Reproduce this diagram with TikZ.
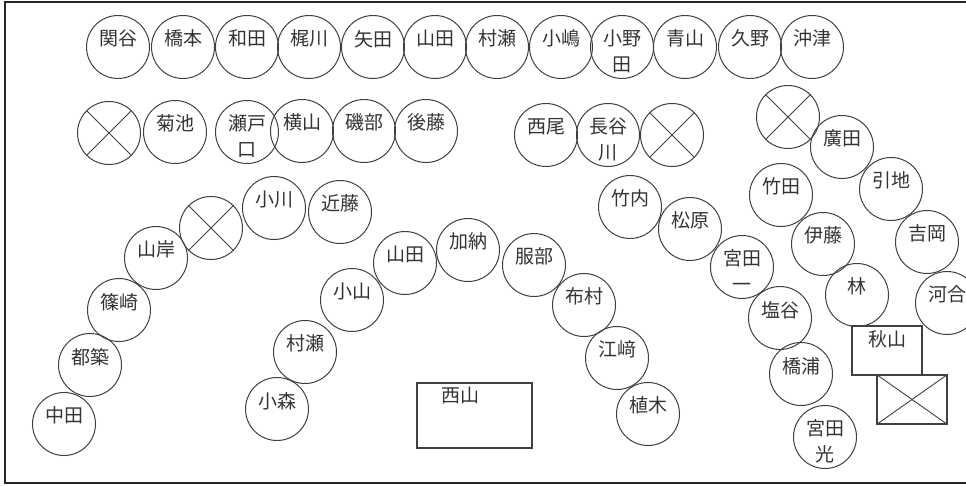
\documentclass[tikz,border=0pt]{standalone}
\usepackage{fontspec}
\newfontfamily\jpfont{Noto Sans CJK JP}
\definecolor{ln}{HTML}{404040}
\definecolor{tx}{HTML}{333333}
\newcommand\seattxt[1]{\parbox[c][34pt][t]{44pt}{\centering #1}}
\tikzset{
  seat/.style={circle, draw=ln, line width=1pt, minimum size=63pt, inner sep=0pt,
    text=tx, font=\jpfont\fontsize{19}{26}\selectfont},
  boxtxt/.style={anchor=north, inner sep=0pt, text=tx, font=\jpfont\fontsize{19}{26}\selectfont},
  crossln/.style={draw=ln, line width=0.9pt},
  desk/.style={draw=ln, line width=1.1pt, inner sep=0pt}
}
\begin{document}
\begin{tikzpicture}[x=1pt, y=-1pt]
\useasboundingbox (0,0) rectangle (966,485);
% frame (open on the right)
\draw[black!85, line width=1.4pt] (966,2) -- (5,2) -- (5,483) -- (966,483);

% row 1
\node[seat] (seki)     at (118,47) {\seattxt{関谷}};
\node[seat] (hashimoto) at (183,47) {\seattxt{橋本}};
\node[seat] (wada)     at (247,47) {\seattxt{和田}};
\node[seat] (kajikawa) at (309,47) {\seattxt{梶川}};
\node[seat] (yada)     at (373,47) {\seattxt{矢田}};
\node[seat] (yamadaA)  at (435,47) {\seattxt{山田}};
\node[seat] (muraseA)  at (497,47) {\seattxt{村瀬}};
\node[seat] (kojima)   at (561,47) {\seattxt{小嶋}};
\node[seat] (onoda)    at (622,47) {\seattxt{小野\\田}};
\node[seat] (aoyama)   at (685,47) {\seattxt{青山}};
\node[seat] (kuno)     at (750,47) {\seattxt{久野}};
\node[seat] (okitsu)   at (812,47) {\seattxt{沖津}};

% row 2
\node[seat] (xA)       at (109,133) {};
\node[seat] (kikuchi)  at (175,132) {\seattxt{菊池}};
\node[seat] (seto)     at (247,132) {\seattxt{瀬戸\\口}};
\node[seat] (yokoyama) at (302,131) {\seattxt{横山}};
\node[seat] (isobe)    at (364,131) {\seattxt{磯部}};
\node[seat] (goto)     at (426,131) {\seattxt{後藤}};
\node[seat] (nishio)   at (546,135) {\seattxt{西尾}};
\node[seat] (hasegawa) at (608,135) {\seattxt{長谷\\川}};
\node[seat] (xB)       at (672,135) {};
\node[seat] (xC)       at (788,117) {};
\node[seat] (hirota)   at (842,147) {\seattxt{廣田}};

% left arc
\node[seat] (ogawa)     at (274,208) {\seattxt{小川}};
\node[seat] (kondo)     at (340,212) {\seattxt{近藤}};
\node[seat] (xD)        at (211,228) {};
\node[seat] (yamagishi) at (156,258) {\seattxt{山岸}};
\node[seat] (shinozaki) at (119,310) {\seattxt{篠崎}};
\node[seat] (tsuzuki)   at (90,365)  {\seattxt{都築}};
\node[seat] (nakata)    at (64,424)  {\seattxt{中田}};

% middle arc
\node[seat] (komori)   at (277,409) {\seattxt{小森}};
\node[seat] (muraseB)  at (305,352) {\seattxt{村瀬}};
\node[seat] (koyama)   at (352,300) {\seattxt{小山}};
\node[seat] (yamadaB)  at (405,263) {\seattxt{山田}};
\node[seat] (kano)     at (468,250) {\seattxt{加納}};
\node[seat] (hattori)  at (534,265) {\seattxt{服部}};
\node[seat] (nunomura) at (584,305) {\seattxt{布村}};
\node[seat] (ezaki)    at (617,358) {\seattxt{江﨑}};
\node[seat] (ueki)     at (648,414) {\seattxt{植木}};

% right group
\node[seat] (takeuchi)  at (630,207) {\seattxt{竹内}};
\node[seat] (matsubara) at (690,229) {\seattxt{松原}};
\node[seat] (miyatak)   at (742,267) {\seattxt{宮田\\一}};
\node[seat] (shiotani)  at (780,318) {\seattxt{塩谷}};
\node[seat] (hashiura)  at (801,374) {\seattxt{橋浦}};
\node[seat] (miyatam)   at (825,437) {\seattxt{宮田\\光}};
\node[seat] (takeda)    at (781,195) {\seattxt{竹田}};
\node[seat] (ito)       at (823,244) {\seattxt{伊藤}};
\node[seat] (hayashi)   at (857,295) {\seattxt{林}};
\node[seat] (hikichi)   at (891,189) {\seattxt{引地}};
\node[seat] (yoshioka)  at (927,242) {\seattxt{吉岡}};
\node[seat] (kawai)     at (947,303) {\seattxt{河合}};

% crossed (empty) seats
\foreach \n in {xA,xB,xC,xD}{
  \draw[crossln] (\n.45) -- (\n.225);
  \draw[crossln] (\n.135) -- (\n.315);
}

% desks
\node[desk, minimum width=115pt, minimum height=65pt] (nishiyama) at (474.5,415.5) {};
\node[boxtxt] (nishiyamaT) at (460,386.5) {西山};
\node[desk, minimum width=70pt, minimum height=49pt] (akiyama) at (887,350.5) {};
\node[boxtxt] (akiyamaT) at (887,330.5) {秋山};
\node[desk, minimum width=70pt, minimum height=49pt] (xdesk) at (912,399.5) {};
\draw[crossln] (xdesk.north west) -- (xdesk.south east);
\draw[crossln] (xdesk.north east) -- (xdesk.south west);
\end{tikzpicture}
\end{document}
